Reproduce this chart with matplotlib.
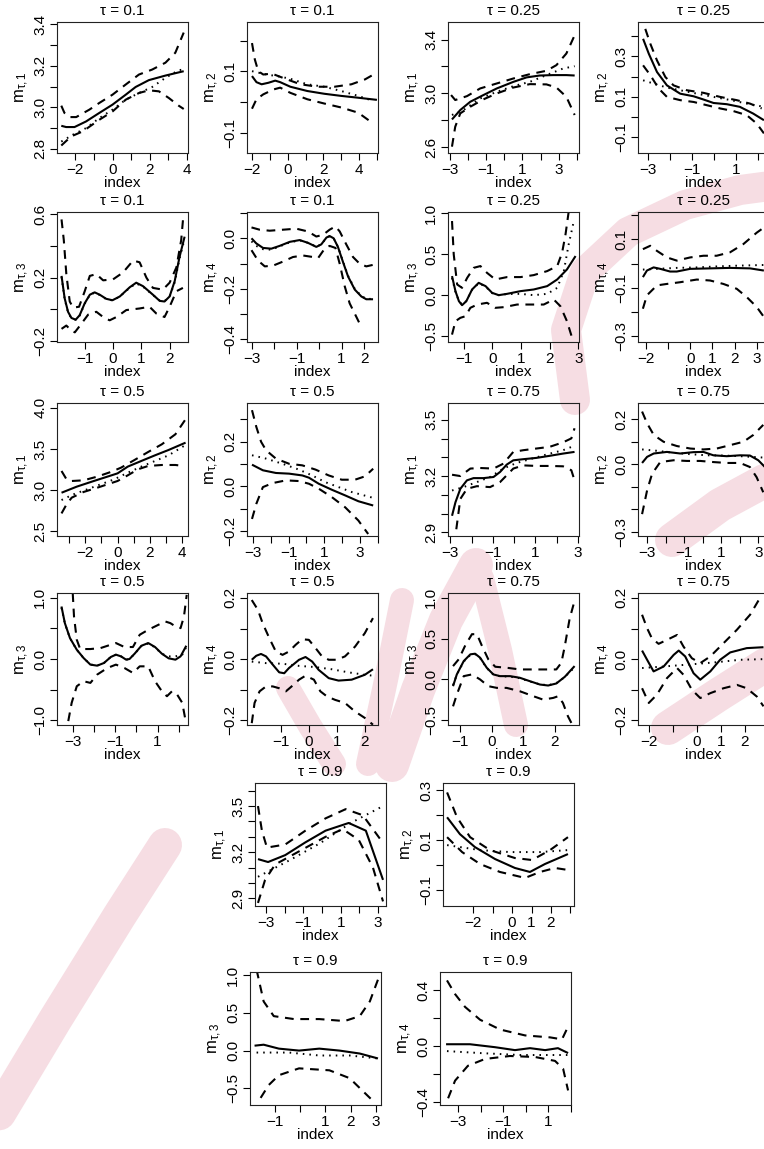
import matplotlib
matplotlib.use("Agg")
import matplotlib.pyplot as plt
from matplotlib.lines import Line2D

plt.rcParams['font.family'] = ['Liberation Sans', 'DejaVu Sans']
plt.rcParams['mathtext.fontset'] = 'custom'
plt.rcParams['mathtext.rm'] = 'Liberation Sans'
plt.rcParams['mathtext.it'] = 'Liberation Sans:italic'
plt.rcParams['axes.unicode_minus'] = True

# ---------------- data: (index, value) pairs ----------------
# Panel 1: tau=0.1, m1
P01_EST = [(-2.75,2.911),(-2.49,2.905),(-2.04,2.905),(-1.42,2.932),(-0.71,2.973),(0,3.013),(0.71,3.061),(1.24,3.098),(1.95,3.131),(2.84,3.153),(3.82,3.174)]
P01_HI = [(-2.75,3.008),(-2.58,2.973),(-2.31,2.953),(-1.95,2.953),(-1.24,2.989),(-0.71,3.021),(0,3.061),(0.71,3.11),(1.42,3.158),(2.13,3.182),(2.84,3.215),(3.37,3.263),(3.82,3.36)]
P01_LO = [(-2.75,2.816),(-2.22,2.86),(-1.6,2.884),(-0.71,2.94),(0,2.98),(0.71,3.037),(1.42,3.069),(1.95,3.082),(2.49,3.077),(3.02,3.045),(3.55,3.008),(3.82,2.992)]
P01_TRUE = [(-2.75,2.835),(-2.13,2.868),(-1.42,2.9),(-0.71,2.948),(0,2.989),(0.71,3.037),(1.42,3.069),(2.13,3.098),(2.84,3.142),(3.55,3.179),(3.82,3.182)]
# Panel 2: tau=0.1, m2
P02_EST = [(-2.0,0.085),(-1.75,0.065),(-1.46,0.058),(-1.08,0.063),(-0.70,0.070),(-0.42,0.065),(0.15,0.050),(1.10,0.036),(2.05,0.027),(3.0,0.020),(3.95,0.014),(5.0,0.007)]
P02_HI = [(-2.0,0.193),(-1.84,0.139),(-1.65,0.101),(-1.37,0.090),(-0.89,0.093),(-0.04,0.074),(0.72,0.058),(1.67,0.050),(2.62,0.050),(3.57,0.058),(4.33,0.074),(4.9,0.093)]
P02_LO = [(-2.0,-0.022),(-1.75,0.009),(-1.37,0.025),(-0.8,0.041),(-0.42,0.047),(0.15,0.030),(1.10,0.009),(2.05,-0.005),(3.0,-0.018),(3.95,-0.035),(4.71,-0.067)]
P02_TRUE = [(-2.0,0.101),(-1.18,0.090),(-0.42,0.083),(0.15,0.076),(1.10,0.058),(2.05,0.050),(3.0,0.036),(3.95,0.020),(4.81,0.003)]
# Panel 3: tau=0.25, m1
P03_EST = [(-2.9,2.807),(-2.44,2.877),(-1.89,2.938),(-1.16,2.988),(-0.42,3.037),(0.5,3.086),(1.23,3.119),(1.96,3.133),(2.7,3.136),(3.43,3.136),(3.89,3.133)]
P03_HI = [(-2.95,2.988),(-2.72,2.951),(-2.07,2.98),(-1.34,3.037),(-0.42,3.074),(0.5,3.111),(1.41,3.143),(2.33,3.168),(2.88,3.21),(3.43,3.296),(3.89,3.432)]
P03_LO = [(-2.9,2.605),(-2.72,2.753),(-2.44,2.852),(-1.89,2.901),(-1.16,2.956),(-0.42,3.0),(0.5,3.044),(1.41,3.069),(2.33,3.067),(2.88,3.044),(3.43,2.975),(3.89,2.84)]
P03_TRUE = [(-2.9,2.84),(-2.26,2.877),(-1.34,2.963),(-0.42,3.012),(0.5,3.054),(1.41,3.086),(2.33,3.136),(3.25,3.185),(3.89,3.202)]
# Panel 4: tau=0.25, m2
P04_EST = [(-3.21,0.387),(-2.95,0.313),(-2.58,0.223),(-2.13,0.157),(-1.53,0.116),(-0.92,0.103),(-0.47,0.087),(-0.02,0.070),(0.58,0.064),(1.17,0.051),(1.77,0.018),(2.26,-0.015)]
P04_HI = [(-3.11,0.436),(-2.88,0.362),(-2.58,0.28),(-2.2,0.198),(-1.83,0.157),(-1.23,0.133),(-0.47,0.120),(0.28,0.100),(1.03,0.084),(1.63,0.067),(2.16,0.043)]
P04_LO = [(-3.21,0.256),(-2.88,0.207),(-2.5,0.141),(-2.13,0.1),(-1.53,0.084),(-0.92,0.075),(-0.32,0.059),(0.28,0.043),(0.88,0.03),(1.48,0.01),(1.93,-0.031),(2.26,-0.080)]
P04_TRUE = [(-3.21,0.182),(-2.73,0.166),(-2.13,0.146),(-1.53,0.133),(-0.77,0.116),(-0.02,0.1),(0.77,0.084),(1.48,0.067),(2.26,0.051)]
# Panel 5: tau=0.1, m3
P05_EST = [(-1.82,0.211),(-1.71,0.070),(-1.59,-0.016),(-1.47,-0.055),(-1.32,-0.066),(-1.18,-0.038),(-1.0,0.038),(-0.82,0.092),(-0.65,0.107),(-0.47,0.092),(-0.24,0.066),(-0.02,0.057),(0.24,0.081),(0.59,0.139),(0.82,0.168),(1.06,0.146),(1.41,0.092),(1.65,0.053),(1.82,0.049),(2.0,0.081),(2.18,0.178),(2.35,0.330),(2.53,0.459)]
P05_HI = [(-1.82,0.568),(-1.74,0.438),(-1.65,0.222),(-1.53,0.049),(-1.41,0.010),(-1.2,0.016),(-1.0,0.114),(-0.82,0.211),(-0.59,0.222),(-0.35,0.183),(0.0,0.189),(0.35,0.232),(0.71,0.308),(0.94,0.297),(1.18,0.2),(1.41,0.135),(1.76,0.124),(2.0,0.168),(2.24,0.265),(2.41,0.438),(2.49,0.6)]
P05_LO = [(-1.82,-0.124),(-1.65,-0.103),(-1.47,-0.135),(-1.35,-0.146),(-1.12,-0.092),(-0.88,-0.034),(-0.59,-0.016),(-0.35,-0.049),(-0.12,-0.070),(0.12,-0.049),(0.47,-0.005),(0.94,0.005),(1.29,0.016),(1.53,-0.027),(1.82,-0.049),(2.0,0.016),(2.24,0.114),(2.47,0.135)]
P05_TRUE = [(-1.82,0.205),(-1.71,0.065),(-1.59,-0.020),(-1.47,-0.058),(-1.32,-0.066),(-1.18,-0.040),(-1.0,0.035),(-0.82,0.090),(-0.65,0.105),(-0.47,0.090),(-0.24,0.064),(-0.02,0.056),(0.24,0.080),(0.59,0.136),(0.82,0.163),(1.06,0.143),(1.41,0.090),(1.65,0.055),(1.82,0.052),(2.0,0.080),(2.18,0.170),(2.35,0.320),(2.53,0.445)]
# Panel 6: tau=0.1, m4
P06_EST = [(-3.0,0.0),(-2.79,-0.020),(-2.49,-0.038),(-2.12,-0.041),(-1.75,-0.030),(-1.30,-0.014),(-0.86,-0.007),(-0.49,-0.018),(-0.12,-0.034),(0.10,-0.024),(0.33,0.003),(0.47,0.009),(0.65,0.0),(0.84,-0.034),(1.07,-0.095),(1.29,-0.151),(1.59,-0.203),(1.88,-0.230),(2.10,-0.241),(2.40,-0.241)]
P06_HI = [(-3.0,0.043),(-2.64,0.034),(-2.19,0.030),(-1.60,0.034),(-1.01,0.038),(-0.49,0.027),(-0.12,0.007),(0.18,0.014),(0.47,0.034),(0.73,0.047),(0.92,0.027),(1.21,-0.024),(1.51,-0.074),(1.81,-0.101),(2.10,-0.111),(2.40,-0.105)]
P06_LO = [(-3.0,-0.047),(-2.71,-0.088),(-2.41,-0.111),(-2.04,-0.108),(-1.60,-0.092),(-1.16,-0.074),(-0.71,-0.068),(-0.27,-0.074),(-0.04,-0.078),(0.25,-0.041),(0.47,-0.030),(0.73,-0.038),(0.92,-0.101),(1.14,-0.189),(1.36,-0.257),(1.66,-0.311),(1.88,-0.351)]
P06_TRUE = [(-3.0,-0.012),(-2.79,-0.030),(-2.49,-0.043),(-2.12,-0.045),(-1.75,-0.032),(-1.30,-0.016),(-0.86,-0.008),(-0.49,-0.018),(-0.12,-0.033),(0.10,-0.024),(0.33,0.002),(0.47,0.008),(0.65,0.0),(0.84,-0.033),(1.07,-0.093),(1.29,-0.148),(1.59,-0.200),(1.88,-0.228),(2.10,-0.239),(2.40,-0.240)]
# Panel 7: tau=0.25, m3
P07_EST = [(-1.41,0.232),(-1.29,0.049),(-1.17,-0.073),(-1.06,-0.122),(-0.91,-0.073),(-0.71,0.069),(-0.48,0.150),(-0.24,0.110),(-0.01,0.028),(0.22,0.0),(0.51,0.016),(0.98,0.049),(1.44,0.069),(1.91,0.110),(2.26,0.191),(2.60,0.313),(2.90,0.476)]
P07_HI = [(-1.41,0.902),(-1.35,0.496),(-1.23,0.130),(-1.06,0.089),(-0.88,0.211),(-0.65,0.333),(-0.42,0.354),(-0.19,0.272),(0.10,0.191),(0.51,0.220),(0.98,0.220),(1.44,0.244),(1.91,0.293),(2.26,0.354),(2.43,0.516),(2.55,0.740),(2.66,1.016)]
P07_LO = [(-1.41,-0.480),(-1.29,-0.317),(-1.12,-0.276),(-0.94,-0.256),(-0.77,-0.154),(-0.53,-0.114),(-0.19,-0.093),(0.10,-0.154),(0.40,-0.146),(0.86,-0.114),(1.33,-0.114),(1.79,-0.114),(2.14,-0.053),(2.37,-0.134),(2.60,-0.317),(2.78,-0.520)]
P07_TRUE = [(-1.41,0.21),(-1.29,0.04),(-1.17,-0.07),(-1.06,-0.115),(-0.91,-0.07),(-0.71,0.065),(-0.48,0.145),(-0.24,0.105),(-0.01,0.025),(0.22,0.0),(0.51,0.014),(0.98,0.016),(1.44,0.0),(1.91,0.016),(2.26,0.089),(2.49,0.293),(2.66,0.618),(2.84,0.902)]
# Panel 8: tau=0.25, m4
P08_EST = [(-2.12,-0.056),(-1.94,-0.029),(-1.64,-0.016),(-1.34,-0.022),(-0.90,-0.033),(-0.60,-0.033),(0.0,-0.022),(0.90,-0.020),(1.79,-0.018),(2.69,-0.020),(3.31,-0.029)]
P08_HI = [(-2.12,0.059),(-1.79,0.073),(-1.49,0.052),(-1.04,0.025),(-0.60,0.012),(0.0,0.025),(0.60,0.032),(1.19,0.032),(1.79,0.046),(2.39,0.080),(2.99,0.127),(3.31,0.148)]
P08_LO = [(-2.12,-0.186),(-1.94,-0.131),(-1.49,-0.090),(-1.04,-0.084),(-0.45,-0.077),(0.30,-0.066),(0.90,-0.070),(1.49,-0.084),(2.09,-0.104),(2.54,-0.138),(2.99,-0.179),(3.31,-0.220)]
P08_TRUE = [(-2.12,-0.025),(-1.49,-0.022),(-0.60,-0.018),(0.30,-0.016),(1.19,-0.012),(2.09,-0.009),(3.31,-0.006)]
# Panel 9: tau=0.5, m1
P09_EST = [(-3.47,2.967),(-2.53,3.041),(-1.47,3.110),(-0.63,3.163),(0.0,3.203),(0.63,3.285),(1.47,3.354),(2.32,3.423),(3.16,3.488),(4.21,3.577)]
P09_HI = [(-3.47,3.232),(-3.16,3.130),(-2.84,3.110),(-2.11,3.118),(-1.26,3.163),(-0.42,3.220),(0.21,3.272),(1.05,3.366),(1.89,3.463),(2.74,3.557),(3.58,3.679),(4.21,3.862)]
P09_LO = [(-3.47,2.715),(-3.16,2.825),(-2.84,2.907),(-2.11,2.976),(-1.26,3.028),(-0.63,3.069),(0.0,3.110),(0.63,3.179),(1.26,3.252),(1.89,3.293),(2.74,3.305),(3.58,3.305),(4.11,3.293)]
P09_TRUE = [(-3.47,2.878),(-2.74,2.947),(-1.89,3.008),(-1.05,3.069),(-0.21,3.130),(0.63,3.211),(1.47,3.285),(2.32,3.354),(3.16,3.423),(4.11,3.537)]
# Panel 10: tau=0.5, m2
P10_EST = [(-3.05,0.097),(-2.44,0.072),(-1.71,0.060),(-0.97,0.057),(-0.23,0.049),(0.14,0.039),(0.69,0.012),(1.43,-0.015),(2.17,-0.040),(2.91,-0.066),(3.74,-0.085)]
P10_HI = [(-3.05,0.340),(-2.81,0.266),(-2.54,0.199),(-2.26,0.161),(-1.71,0.124),(-0.97,0.101),(-0.23,0.094),(0.51,0.075),(1.25,0.049),(1.98,0.030),(2.72,0.030),(3.28,0.045),(3.74,0.079)]
P10_LO = [(-3.05,-0.145),(-2.81,-0.078),(-2.44,-0.003),(-1.89,0.015),(-1.15,0.027),(-0.42,0.024),(0.14,0.012),(0.69,-0.010),(1.43,-0.048),(2.17,-0.093),(2.91,-0.152),(3.46,-0.212)]
P10_TRUE = [(-3.05,0.139),(-2.26,0.124),(-1.34,0.101),(-0.42,0.075),(0.32,0.049),(1.06,0.019),(1.80,-0.003),(2.54,-0.025),(3.74,-0.051)]
# Panel 11: tau=0.75, m1
P11_EST = [(-2.92,2.988),(-2.76,3.060),(-2.53,3.132),(-2.22,3.177),(-1.91,3.189),(-1.44,3.189),(-0.97,3.195),(-0.66,3.222),(-0.35,3.261),(-0.04,3.284),(0.43,3.290),(1.05,3.297),(1.67,3.308),(2.30,3.320),(2.84,3.329)]
P11_HI = [(-2.92,3.207),(-2.53,3.200),(-2.06,3.240),(-1.60,3.243),(-0.97,3.240),(-0.51,3.266),(-0.04,3.329),(0.43,3.338),(1.05,3.347),(1.67,3.356),(2.30,3.380),(2.69,3.401),(2.84,3.455)]
P11_LO = [(-2.72,2.916),(-2.53,3.078),(-2.22,3.132),(-1.75,3.146),(-1.13,3.141),(-0.66,3.168),(-0.35,3.204),(-0.04,3.240),(0.43,3.257),(1.05,3.254),(1.67,3.254),(2.30,3.252),(2.69,3.231),(2.84,3.177)]
P11_TRUE = [(-2.92,3.123),(-2.38,3.141),(-1.75,3.168),(-1.13,3.195),(-0.51,3.240),(0.12,3.270),(0.74,3.290),(1.52,3.315),(2.30,3.338),(2.84,3.362)]
# Panel 12: tau=0.75, m2
P12_EST = [(-3.27,0.006),(-3.0,0.033),(-2.64,0.048),(-1.93,0.055),(-1.21,0.048),(-0.49,0.054),(0.04,0.055),(0.58,0.040),(1.30,0.036),(2.02,0.040),(2.55,0.039),(3.0,0.018),(3.36,-0.012)]
P12_HI = [(-3.27,0.234),(-3.0,0.182),(-2.64,0.130),(-2.11,0.100),(-1.39,0.081),(-0.67,0.070),(0.04,0.066),(0.76,0.070),(1.48,0.085),(2.20,0.100),(2.73,0.130),(3.27,0.175)]
P12_LO = [(-3.27,-0.221),(-3.0,-0.116),(-2.73,-0.042),(-2.29,0.010),(-1.57,0.018),(-0.85,0.015),(-0.13,0.015),(0.58,0.010),(1.30,0.006),(2.02,0.006),(2.55,-0.012),(2.91,-0.057),(3.27,-0.124)]
P12_TRUE = [(-3.27,0.066),(-2.46,0.060),(-1.57,0.051),(-0.67,0.045),(0.22,0.040),(1.12,0.039),(2.02,0.036),(3.27,0.030)]
# Panel 13: tau=0.5, m3
P13_EST = [(-3.52,0.859),(-3.36,0.587),(-3.12,0.342),(-2.80,0.152),(-2.48,0.016),(-2.16,-0.092),(-1.84,-0.109),(-1.52,-0.065),(-1.20,0.033),(-0.96,0.071),(-0.72,0.043),(-0.48,-0.011),(-0.32,0.0),(-0.08,0.087),(0.24,0.217),(0.56,0.261),(0.88,0.196),(1.20,0.087),(1.52,0.011),(1.84,-0.011),(2.08,0.043),(2.35,0.217)]
P13_HI = [(-2.99,1.076),(-2.93,0.696),(-2.80,0.315),(-2.64,0.163),(-2.16,0.163),(-1.68,0.179),(-1.20,0.234),(-0.96,0.261),(-0.56,0.196),(-0.16,0.196),(0.16,0.397),(0.56,0.478),(1.04,0.560),(1.36,0.614),(1.60,0.587),(1.84,0.533),(2.08,0.505),(2.24,0.696),(2.37,1.049)]
P13_LO = [(-3.2,-1.016),(-3.04,-0.717),(-2.80,-0.446),(-2.48,-0.364),(-2.16,-0.391),(-1.84,-0.255),(-1.36,-0.147),(-0.96,-0.092),(-0.56,-0.147),(-0.16,-0.228),(0.16,-0.120),(0.56,-0.120),(0.88,-0.364),(1.20,-0.527),(1.44,-0.609),(1.68,-0.527),(1.92,-0.582),(2.16,-0.717),(2.32,-1.016)]
P13_TRUE = [(-3.52,0.84),(-3.36,0.58),(-3.12,0.34),(-2.80,0.15),(-2.48,0.016),(-2.16,-0.09),(-1.84,-0.107),(-1.52,-0.064),(-1.20,0.032),(-0.96,0.07),(-0.72,0.043),(-0.48,-0.01),(-0.32,0.0),(-0.08,0.085),(0.24,0.212),(0.56,0.255),(0.88,0.19),(1.20,0.085),(1.52,0.043),(1.84,0.043),(2.16,0.07),(2.35,0.196)]
# Panel 14: tau=0.5, m4
P14_EST = [(-2.04,-0.002),(-1.88,0.011),(-1.71,0.017),(-1.53,0.009),(-1.29,-0.018),(-1.06,-0.043),(-0.88,-0.046),(-0.71,-0.029),(-0.35,-0.002),(-0.12,0.007),(0.12,-0.008),(0.35,-0.035),(0.71,-0.062),(1.06,-0.070),(1.53,-0.067),(2.0,-0.051),(2.29,-0.033)]
P14_HI = [(-2.04,0.193),(-1.82,0.161),(-1.65,0.117),(-1.41,0.068),(-1.18,0.025),(-0.94,0.014),(-0.71,0.025),(-0.47,0.047),(-0.24,0.065),(0.0,0.063),(0.24,0.036),(0.47,0.009),(0.71,-0.002),(1.0,-0.002),(1.29,0.009),(1.65,0.041),(2.0,0.085),(2.29,0.134)]
P14_LO = [(-2.04,-0.209),(-1.94,-0.143),(-1.76,-0.105),(-1.53,-0.089),(-1.29,-0.089),(-1.06,-0.095),(-0.82,-0.105),(-0.59,-0.087),(-0.35,-0.067),(-0.12,-0.054),(0.18,-0.067),(0.41,-0.105),(0.65,-0.122),(0.94,-0.133),(1.29,-0.143),(1.65,-0.171),(2.0,-0.192),(2.29,-0.214)]
P14_TRUE = [(-2.04,-0.008),(-1.53,-0.013),(-0.94,-0.015),(-0.35,-0.022),(0.24,-0.026),(0.82,-0.033),(1.41,-0.043),(2.0,-0.051),(2.29,-0.054)]
# Panel 15: tau=0.75, m3
P15_EST = [(-1.23,-0.082),(-1.11,0.062),(-0.89,0.226),(-0.68,0.308),(-0.53,0.316),(-0.37,0.267),(-0.16,0.144),(0.05,0.062),(0.26,0.041),(0.58,0.041),(0.89,0.021),(1.21,-0.021),(1.53,-0.062),(1.79,-0.074),(2.05,-0.049),(2.32,0.033),(2.63,0.164)]
P15_HI = [(-1.23,0.164),(-1.05,0.247),(-0.84,0.419),(-0.63,0.555),(-0.47,0.555),(-0.32,0.419),(-0.11,0.247),(0.11,0.156),(0.47,0.144),(0.89,0.123),(1.32,0.123),(1.74,0.123),(2.05,0.123),(2.21,0.205),(2.32,0.411),(2.47,0.740),(2.63,0.966)]
P15_LO = [(-1.23,-0.329),(-1.11,-0.185),(-0.89,0.041),(-0.63,0.062),(-0.37,0.0),(-0.11,-0.082),(0.16,-0.103),(0.47,-0.103),(0.89,-0.144),(1.32,-0.205),(1.63,-0.247),(1.95,-0.226),(2.11,-0.205),(2.26,-0.288),(2.42,-0.452),(2.53,-0.534)]
P15_TRUE = [(-1.23,-0.07),(-1.11,0.06),(-0.89,0.22),(-0.68,0.30),(-0.53,0.31),(-0.37,0.26),(-0.16,0.14),(0.05,0.06),(0.26,0.04),(0.58,0.035),(0.89,0.015),(1.21,-0.025),(1.53,-0.06),(1.79,-0.07),(2.05,-0.045),(2.32,0.03),(2.63,0.15)]
# Panel 16: tau=0.75, m4
P16_EST = [(-2.29,0.028),(-2.08,-0.002),(-1.81,-0.040),(-1.39,-0.024),(-0.97,0.014),(-0.76,0.028),(-0.49,0.009),(-0.14,-0.046),(0.14,-0.067),(0.56,-0.040),(0.97,-0.002),(1.39,0.022),(2.08,0.036),(2.78,0.039)]
P16_HI = [(-2.29,0.145),(-2.08,0.101),(-1.88,0.068),(-1.60,0.050),(-1.25,0.063),(-0.83,0.079),(-0.56,0.041),(-0.21,0.003),(0.14,-0.013),(0.56,0.009),(1.11,0.052),(1.67,0.096),(2.22,0.145),(2.71,0.210)]
P16_LO = [(-2.29,-0.095),(-2.01,-0.143),(-1.67,-0.116),(-1.25,-0.062),(-0.83,-0.029),(-0.56,-0.051),(-0.21,-0.100),(0.14,-0.127),(0.56,-0.111),(1.11,-0.095),(1.67,-0.084),(2.08,-0.095),(2.5,-0.122),(2.78,-0.154)]
P16_TRUE = [(-2.29,-0.029),(-1.39,-0.024),(-0.42,-0.018),(0.69,-0.011),(1.81,-0.002),(2.78,0.0)]
# Panel 17: tau=0.9, m1
P17_EST = [(-3.43,3.155),(-2.89,3.136),(-1.97,3.181),(-0.89,3.264),(0.19,3.34),(1.43,3.39),(2.35,3.34),(3.27,3.02)]
P17_HI = [(-3.43,3.5),(-3.22,3.34),(-2.95,3.23),(-1.97,3.25),(-0.89,3.34),(0.19,3.42),(1.27,3.48),(2.19,3.44),(3.27,3.26)]
P17_LO = [(-3.43,2.87),(-3.05,3.02),(-2.51,3.12),(-1.16,3.21),(0.19,3.30),(1.11,3.35),(1.97,3.28),(2.73,3.10),(3.27,2.88)]
P17_TRUE = [(-3.43,3.04),(-1.7,3.15),(-0.08,3.26),(1.54,3.39),(3.27,3.50)]
# Panel 18: tau=0.9, m2
P18_EST = [(-3.33,0.192),(-2.67,0.124),(-1.9,0.072),(-0.87,0.024),(0.15,-0.012),(0.92,-0.028),(1.69,0.004),(2.87,0.044)]
P18_HI = [(-3.33,0.292),(-2.82,0.192),(-2.15,0.112),(-1.13,0.06),(0.15,0.028),(1.03,0.02),(1.95,0.06),(2.87,0.112)]
P18_LO = [(-3.33,0.112),(-2.56,0.052),(-1.64,0.004),(-0.62,-0.028),(0.67,-0.052),(1.44,-0.028),(2.21,-0.012),(2.87,-0.02)]
P18_TRUE = [(-3.33,0.08),(-1.64,0.06),(-0.1,0.052),(1.44,0.052),(2.87,0.06)]
# Panel 19: tau=0.9, m3
P19_EST = [(-1.8,0.065),(-1.44,0.078),(-0.84,0.026),(-0.04,0.0),(0.76,0.026),(1.56,0.0),(2.36,-0.039),(3.08,-0.104)]
P19_HI = [(-1.72,1.07),(-1.44,0.65),(-1.04,0.456),(-0.24,0.417),(0.76,0.417),(1.76,0.391),(2.36,0.456),(2.76,0.652),(3.08,0.939)]
P19_LO = [(-1.56,-0.626),(-1.24,-0.456),(-0.84,-0.326),(-0.04,-0.235),(1.16,-0.261),(1.96,-0.365),(2.44,-0.522),(2.84,-0.652)]
P19_TRUE = [(-1.72,-0.026),(-0.44,-0.026),(0.76,-0.065),(1.96,-0.065),(3.08,-0.104)]
# Panel 20: tau=0.9, m4
P20_EST = [(-3.53,0.014),(-2.47,0.014),(-1.36,-0.007),(-0.47,-0.028),(0.2,-0.014),(0.87,-0.028),(1.44,-0.014),(1.89,-0.049)]
P20_HI = [(-3.49,0.47),(-3.13,0.372),(-2.69,0.281),(-2.02,0.189),(-1.13,0.119),(-0.02,0.077),(1.09,0.063),(1.62,0.049),(1.89,0.14)]
P20_LO = [(-3.44,-0.372),(-3.13,-0.246),(-2.56,-0.14),(-1.8,-0.091),(-0.69,-0.07),(0.42,-0.077),(1.31,-0.105),(1.67,-0.161),(1.89,-0.316)]
P20_TRUE = [(-3.49,-0.035),(-2.02,-0.049),(-0.24,-0.063),(1.89,-0.063)]

# ---------------- layout / axis settings ----------------
W, H = 764, 1149
fig = plt.figure(figsize=(W / 100, H / 100), dpi=100)

M = '\u2212'
def lab(vals, shown):
    return [(f"{v:g}".replace('-', M) if v in shown else '') for v in vals]

def labf(vals, shown):
    return [("{:.1f}".format(v).replace('-', M) if v in shown else '') for v in vals]

panels = [
    ((57, 22, 188, 153), '0.1', 1, (P01_EST, P01_LO, P01_HI, P01_TRUE), (-2.98, 4.05), (2.78, 3.411),
     [-2, -1, 0, 1, 2, 3, 4], [-2, 0, 2, 4], [2.8, 2.9, 3.0, 3.1, 3.2, 3.3, 3.4], [2.8, 3.0, 3.2, 3.4]),
    ((247, 22, 378, 153), '0.1', 2, (P02_EST, P02_LO, P02_HI, P02_TRUE), (-2.28, 5.06), (-0.167, 0.262),
     [-2, -1, 0, 1, 2, 3, 4, 5], [-2, 0, 2, 4], [-0.1, 0.0, 0.1, 0.2], [-0.1, 0.1]),
    ((448, 22, 579, 153), '0.25', 1, (P03_EST, P03_LO, P03_HI, P03_TRUE), (-3.12, 4.13), (2.558, 3.53),
     [-3, -2, -1, 0, 1, 2, 3, 4], [-3, -1, 1, 3], [2.6, 2.8, 3.0, 3.2, 3.4], [2.6, 3.0, 3.4]),
    ((638, 22, 769, 153), '0.25', 2, (P04_EST, P04_LO, P04_HI, P04_TRUE), (-3.44, 2.49), (-0.177, 0.47),
     [-3, -2, -1, 0, 1, 2], [-3, -1, 1], [-0.1, 0.0, 0.1, 0.2, 0.3, 0.4], [-0.1, 0.1, 0.3]),
    ((57, 212, 188, 342), '0.1', 3, (P05_EST, P05_LO, P05_HI, P05_TRUE), (-1.98, 2.65), (-0.207, 0.615),
     [-1, 0, 1, 2], [-1, 0, 1, 2], [-0.2, 0.0, 0.2, 0.4, 0.6], [-0.2, 0.2, 0.6]),
    ((247, 212, 378, 342), '0.1', 4, (P06_EST, P06_LO, P06_HI, P06_TRUE), (-3.2, 2.62), (-0.41, 0.104),
     [-3, -2, -1, 0, 1, 2], [-3, -1, 1, 2], [-0.4, -0.3, -0.2, -0.1, 0.0, 0.1], [-0.4, -0.2, 0.0]),
    ((448, 212, 579, 342), '0.25', 3, (P07_EST, P07_LO, P07_HI, P07_TRUE), (-1.55, 3.02), (-0.57, 1.012),
     [-1, 0, 1, 2, 3], [-1, 0, 1, 2, 3], [-0.5, 0.0, 0.5, 1.0], [-0.5, 0.0, 0.5, 1.0]),
    ((638, 212, 769, 342), '0.25', 4, (P08_EST, P08_LO, P08_HI, P08_TRUE), (-2.34, 3.54), (-0.323, 0.212),
     [-2, -1, 0, 1, 2, 3], [-2, 0, 1, 2, 3], [-0.3, -0.2, -0.1, 0.0, 0.1, 0.2], [-0.3, -0.1, 0.1]),
    ((57, 403, 188, 536), '0.5', 1, (P09_EST, P09_LO, P09_HI, P09_TRUE), (-3.75, 4.36), (2.44, 4.06),
     [-3, -2, -1, 0, 1, 2, 3, 4], [-2, 0, 2, 4], [2.5, 3.0, 3.5, 4.0], [2.5, 3.0, 3.5, 4.0]),
    ((247, 403, 378, 536), '0.5', 2, (P10_EST, P10_LO, P10_HI, P10_TRUE), (-3.33, 4.01), (-0.221, 0.372),
     [-3, -2, -1, 0, 1, 2, 3, 4], [-3, -1, 1, 3], [-0.2, -0.1, 0.0, 0.1, 0.2, 0.3], [-0.2, 0.0, 0.2]),
    ((448, 403, 579, 536), '0.75', 1, (P11_EST, P11_LO, P11_HI, P11_TRUE), (-3.11, 3.05), (2.88, 3.59),
     [-3, -2, -1, 0, 1, 2, 3], [-3, -1, 1, 3], [2.9, 3.0, 3.1, 3.2, 3.3, 3.4, 3.5], [2.9, 3.2, 3.5]),
    ((638, 403, 769, 536), '0.75', 2, (P12_EST, P12_LO, P12_HI, P12_TRUE), (-3.49, 3.58), (-0.318, 0.272),
     [-3, -2, -1, 0, 1, 2, 3], [-3, -1, 1, 3], [-0.3, -0.2, -0.1, 0.0, 0.1, 0.2], [-0.3, 0.0, 0.2]),
    ((57, 593, 188, 725), '0.5', 3, (P13_EST, P13_LO, P13_HI, P13_TRUE), (-3.73, 2.43), (-1.08, 1.08),
     [-3, -2, -1, 0, 1, 2], [-3, -1, 1], [-1.0, -0.5, 0.0, 0.5, 1.0], [-1.0, 0.0, 1.0]),
    ((247, 593, 378, 725), '0.5', 4, (P14_EST, P14_LO, P14_HI, P14_TRUE), (-2.21, 2.47), (-0.215, 0.216),
     [-1, 0, 1, 2], [-1, 0, 1, 2], [-0.2, -0.1, 0.0, 0.1, 0.2], [-0.2, 0.0, 0.2]),
    ((448, 593, 579, 725), '0.75', 3, (P15_EST, P15_LO, P15_HI, P15_TRUE), (-1.39, 2.77), (-0.558, 1.06),
     [-1, 0, 1, 2], [-1, 0, 1, 2], [-0.5, 0.0, 0.5, 1.0], [-0.5, 0.0, 0.5, 1.0]),
    ((638, 593, 769, 725), '0.75', 4, (P16_EST, P16_LO, P16_HI, P16_TRUE), (-2.46, 3.01), (-0.215, 0.216),
     [-2, -1, 0, 1, 2], [-2, 0, 1, 2], [-0.2, -0.1, 0.0, 0.1, 0.2], [-0.2, 0.0, 0.2]),
    ((255, 783, 386, 906), '0.9', 1, (P17_EST, P17_LO, P17_HI, P17_TRUE), (-3.59, 3.43), (2.85, 3.65),
     [-3, -2, -1, 0, 1, 2, 3], [-3, -1, 1, 3], [2.9, 3.0, 3.1, 3.2, 3.3, 3.4, 3.5, 3.6], [2.9, 3.2, 3.5]),
    ((443, 783, 574, 906), '0.9', 2, (P18_EST, P18_LO, P18_HI, P18_TRUE), (-3.54, 3.18), (-0.165, 0.33),
     [-2, -1, 0, 1, 2, 3], [-2, 0, 1, 2], [-0.1, 0.0, 0.1, 0.2, 0.3], [-0.1, 0.1, 0.3]),
    ((250, 972, 381, 1105), '0.9', 3, (P19_EST, P19_LO, P19_HI, P19_TRUE), (-1.98, 3.2), (-0.72, 1.04),
     [-1, 0, 1, 2, 3], [-1, 1, 2, 3], [-0.5, 0.0, 0.5, 1.0], [-0.5, 0.0, 0.5, 1.0]),
    ((440, 972, 571, 1105), '0.9', 4, (P20_EST, P20_LO, P20_HI, P20_TRUE), (-3.8, 2.02), (-0.42, 0.53),
     [-3, -2, -1, 0, 1, 2], [-3, -1, 1], [-0.4, -0.2, 0.0, 0.2, 0.4], [-0.4, 0.0, 0.4]),
]

# faint pink signature watermark (figure pixel paths), drawn under the axes
WM_STROKES = [
    ([(575, 400), (566, 330), (585, 272), (628, 232), (685, 205), (740, 190), (770, 186)], 30),
    ([(672, 540), (720, 505), (770, 478)], 34),
    ([(668, 728), (718, 695), (770, 662)], 34),
    ([(392, 765), (418, 690), (446, 620), (476, 565)], 34),
    ([(482, 578), (500, 650), (516, 725)], 24),
    ([(288, 688), (310, 726), (334, 764)], 24),
    ([(402, 600), (386, 680), (368, 764)], 24),
    ([(-5, 1120), (55, 1020), (120, 915), (165, 845)], 34),
]
for path, wpx in WM_STROKES:
    xs = [p[0] / W for p in path]
    ys = [1 - p[1] / H for p in path]
    fig.add_artist(Line2D(xs, ys, transform=fig.transFigure, color='#f6dde3', lw=wpx * 0.72,
                          solid_capstyle='round', solid_joinstyle='round', zorder=-5))

FS = 11
for (l, t, r, b), tau, k, curves, xlim, ylim, xt, xshow, yt, yshow in panels:
    wpx, hpx = r - l, b - t
    ax = fig.add_axes([l / W, 1 - b / H, wpx / W, hpx / H])
    ax.set_facecolor('none')
    est, lo, hi, tru = curves
    for pts, ls, lw in ((tru, (0, (0.8, 2.6)), 1.4), (lo, (0, (4.2, 3.2)), 1.5),
                        (hi, (0, (4.2, 3.2)), 1.5), (est, '-', 1.5)):
        xs = [p[0] for p in pts]
        ys = [p[1] for p in pts]
        ax.plot(xs, ys, color='black', lw=lw, linestyle=ls, solid_capstyle='butt',
                dash_capstyle='butt', solid_joinstyle='round')
    ax.set_xlim(*xlim)
    ax.set_ylim(*ylim)
    ax.set_xticks(xt)
    ax.set_xticklabels(lab(xt, xshow))
    ax.set_yticks(yt)
    ax.set_yticklabels(labf(yt, yshow), rotation=90, va='center')
    ax.tick_params(direction='out', length=5, width=0.8, labelsize=FS, pad=2, colors='black')
    for s in ax.spines.values():
        s.set_linewidth(0.8)
        s.set_color('#222222')
    ax.text(0.5, 1 + 11 / hpx, '\u03c4 = ' + tau, transform=ax.transAxes, ha='center', va='center', fontsize=FS)
    ax.text(0.5, -30 / hpx, 'index', transform=ax.transAxes, ha='center', va='center', fontsize=FS)
    ax.text(-35 / wpx, 0.5, r'$\mathrm{m}_{\mathrm{\tau,%d}}$' % k, transform=ax.transAxes,
            ha='center', va='center', rotation=90, fontsize=FS + 1)

fig.savefig('out.png', dpi=100, facecolor='white')
